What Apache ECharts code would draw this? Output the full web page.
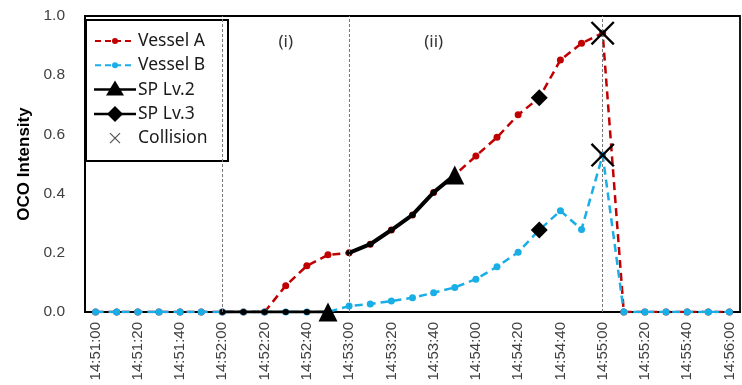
<!DOCTYPE html>
<html>
<head>
<meta charset="utf-8">
<script src="https://cdn.jsdelivr.net/npm/echarts@6/dist/echarts.min.js"></script>
<style>
  html, body { margin: 0; padding: 0; background: #fff; }
  #chart { width: 742px; height: 385px; }
</style>
</head>
<body>
<div id="chart"></div>
<script>
// time axis, one point every 10 s
var times = [
    '14:51:00','14:51:10','14:51:20','14:51:30','14:51:40','14:51:50',
    '14:52:00','14:52:10','14:52:20','14:52:30','14:52:40','14:52:50',
    '14:53:00','14:53:10','14:53:20','14:53:30','14:53:40','14:53:50',
    '14:54:00','14:54:10','14:54:20','14:54:30','14:54:40','14:54:50',
    '14:55:00','14:55:10','14:55:20','14:55:30','14:55:40','14:55:50',
    '14:56:00'
];
var vesselA = [
    0, 0, 0, 0, 0, 0,
    0, 0, 0, 0.089, 0.156, 0.193,
    0.200, 0.229, 0.277, 0.328, 0.404, 0.463,
    0.527, 0.590, 0.666, 0.724, 0.851, 0.908,
    0.942, 0, 0, 0, 0, 0,
    0
];
var vesselB = [
    0, 0, 0, 0, 0, 0,
    0, 0, 0, 0, 0, 0,
    0.020, 0.027, 0.037, 0.048, 0.065, 0.083,
    0.111, 0.153, 0.202, 0.277, 0.342, 0.279,
    0.530, 0, 0, 0, 0, 0,
    0
];
// index ranges of the SP Lv.2 stretch on each vessel
var spLv2B = [6, 11];
var spLv2A = [12, 17];
// index of SP Lv.3 and collision
var spLv3Index = 21;
var collisionIndex = 24;
// dashed vertical guides and phase labels
var guideTimes = ['14:52:00', '14:53:00', '14:55:00'];
var phaseLabels = [['(i)', '14:52:30'], ['(ii)', '14:53:40']];
var yTicks = [0, 0.2, 0.4, 0.6, 0.8, 1.0];

var RED = '#C00000';
var BLUE = '#1AAEE6';
var crossPath = 'path://M0,0.7L0.7,0L5,4.3L9.3,0L10,0.7L5.7,5L10,9.3L9.3,10L5,5.7L0.7,10L0,9.3L4.3,5Z';

function segment(values, range) {
    return values.map(function (v, i) {
        if (i < range[0] || i > range[1]) return '-';
        var end = i === range[1];
        return { value: v, symbol: end ? 'triangle' : 'circle', symbolSize: end ? 19 : 6 };
    });
}

var chart = echarts.init(document.getElementById('chart'));

// hand-drawn legend box
var legendRows = [
    { name: 'Vessel A', kind: 'dot', color: RED },
    { name: 'Vessel B', kind: 'dot', color: BLUE },
    { name: 'SP Lv.2', kind: 'triangle', color: '#000' },
    { name: 'SP Lv.3', kind: 'diamond', color: '#000' },
    { name: 'Collision', kind: 'cross', color: '#555' }
];
var legendEls = [{
    type: 'rect', shape: { x: 86, y: 20, width: 142, height: 141 },
    style: { fill: '#fff', stroke: '#000', lineWidth: 2 }
}];
legendRows.forEach(function (row, k) {
    var y = 41 + k * 24.3;
    var cx = 115;
    if (row.kind === 'dot') {
        legendEls.push({ type: 'line', shape: { x1: 95, y1: y, x2: 135, y2: y },
            style: { stroke: row.color, lineWidth: 2, lineDash: [6, 4] } });
        legendEls.push({ type: 'circle', shape: { cx: cx, cy: y, r: 3 }, style: { fill: row.color } });
    } else if (row.kind === 'triangle') {
        legendEls.push({ type: 'line', shape: { x1: 94, y1: y, x2: 136, y2: y },
            style: { stroke: '#000', lineWidth: 2.5 } });
        legendEls.push({ type: 'polygon', shape: { points: [[cx, y - 9], [cx - 9, y + 6], [cx + 9, y + 6]] },
            style: { fill: '#000' } });
    } else if (row.kind === 'diamond') {
        legendEls.push({ type: 'line', shape: { x1: 94, y1: y, x2: 136, y2: y },
            style: { stroke: '#000', lineWidth: 2.5 } });
        legendEls.push({ type: 'polygon', shape: { points: [[cx, y - 8], [cx + 8, y], [cx, y + 8], [cx - 8, y]] },
            style: { fill: '#000' } });
    } else {
        legendEls.push({ type: 'line', shape: { x1: cx - 5, y1: y - 5, x2: cx + 5, y2: y + 5 },
            style: { stroke: row.color, lineWidth: 1.2 } });
        legendEls.push({ type: 'line', shape: { x1: cx - 5, y1: y + 5, x2: cx + 5, y2: y - 5 },
            style: { stroke: row.color, lineWidth: 1.2 } });
    }
    legendEls.push({ type: 'text', x: 138, y: y,
        style: { text: row.name, fill: '#1a1a1a', font: '17.5px "Noto Sans", sans-serif', verticalAlign: 'middle' } });
});

var option = {
    animation: false,
    grid: {
        left: 85, right: 2, top: 16, bottom: 73,
        show: true, borderColor: '#000', borderWidth: 1.8
    },
    xAxis: {
        type: 'category',
        data: times,
        boundaryGap: true,
        axisLine: { lineStyle: { color: '#000', width: 2 } },
        axisTick: { show: false },
        axisLabel: {
            interval: 1, rotate: 90, margin: 10,
            fontSize: 15, color: '#404040', fontFamily: 'Liberation Sans, Arial, sans-serif'
        },
        splitLine: { show: false }
    },
    yAxis: {
        type: 'value',
        min: yTicks[0], max: yTicks[yTicks.length - 1], interval: 0.2,
        name: 'OCO Intensity',
        nameLocation: 'middle',
        nameGap: 50,
        nameTextStyle: { fontSize: 17, fontWeight: 'bold', color: '#000', fontFamily: 'Liberation Sans, Arial, sans-serif' },
        axisLine: { show: true, lineStyle: { color: '#000', width: 2 } },
        axisTick: { show: false },
        splitLine: { show: false },
        axisLabel: {
            margin: 20, fontSize: 15.5, color: '#404040', fontFamily: 'Liberation Sans, Arial, sans-serif',
            formatter: function (v) { return v.toFixed(1); }
        }
    },
    graphic: { elements: [{ type: 'group', z: 100, children: legendEls }] },
    series: [
        {
            name: 'Vessel A', type: 'line', data: vesselA,
            symbol: 'circle', symbolSize: 7,
            itemStyle: { color: RED },
            lineStyle: { color: RED, width: 2.5, type: [8, 5] },
            z: 2,
            markLine: {
                silent: true, symbol: 'none',
                label: { show: false },
                lineStyle: { color: '#777', type: [3, 2], width: 1 },
                data: guideTimes.map(function (t) { return { xAxis: t }; })
            },
            markPoint: {
                silent: true, symbol: 'circle', symbolSize: 0,
                label: { show: true, color: '#333', fontSize: 17, fontFamily: '"Noto Sans", sans-serif',
                    formatter: function (p) { return p.name; } },
                data: phaseLabels.map(function (p) { return { name: p[0], coord: [p[1], 0.91] }; })
            }
        },
        {
            name: 'Vessel B', type: 'line', data: vesselB,
            symbol: 'circle', symbolSize: 7,
            itemStyle: { color: BLUE },
            lineStyle: { color: BLUE, width: 2.5, type: [8, 5] },
            z: 3
        },
        {
            name: 'SP Lv.2', type: 'line', data: segment(vesselB, spLv2B),
            itemStyle: { color: '#000' }, lineStyle: { color: '#000', width: 3 }, z: 4
        },
        {
            name: 'SP Lv.2', type: 'line', data: segment(vesselA, spLv2A),
            itemStyle: { color: '#000' }, lineStyle: { color: '#000', width: 4 }, z: 4
        },
        {
            name: 'SP Lv.3', type: 'scatter', symbol: 'diamond', symbolSize: 17,
            itemStyle: { color: '#000', opacity: 1 }, z: 5,
            data: [[spLv3Index, vesselA[spLv3Index]], [spLv3Index, vesselB[spLv3Index]]]
        },
        {
            name: 'Collision', type: 'scatter', symbol: crossPath, symbolSize: 24,
            itemStyle: { color: '#000', opacity: 1 }, z: 6,
            data: [[collisionIndex, vesselA[collisionIndex]], [collisionIndex, vesselB[collisionIndex]]]
        }
    ]
};

chart.setOption(option);
</script>
</body>
</html>
